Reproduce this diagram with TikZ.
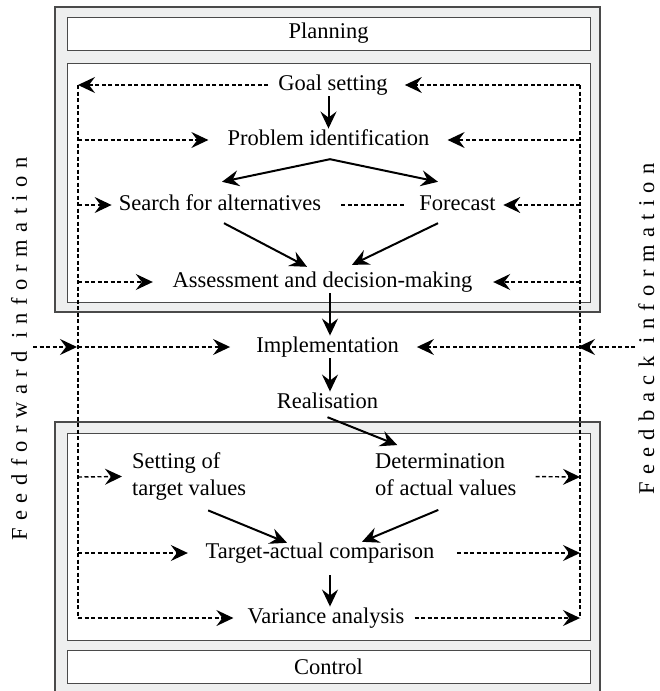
\documentclass[tikz,border=0pt]{standalone}
\usepackage{fontspec}
\setmainfont{Liberation Serif}
\usetikzlibrary{arrows.meta}
\definecolor{boxfill}{HTML}{EEEFEF}
\definecolor{boxline}{HTML}{4A4A4A}
\begin{document}
\begin{tikzpicture}[x=1pt,y=-1pt,
  mainfont/.style={font=\fontsize{22.5}{27}\selectfont},
  txt/.style={mainfont, inner xsep=10pt, inner ysep=1pt, text height=15.5pt, text depth=5pt},
  two/.style={mainfont, inner xsep=10pt, inner ysep=1pt, align=left},
  outerbox/.style={draw=boxline, fill=boxfill, line width=1.2pt},
  innerbox/.style={draw=boxline, fill=white, line width=1pt},
  labelbox/.style={innerbox, mainfont, minimum width=523pt, minimum height=33pt, inner sep=0pt},
  tip/.style={-{Stealth[length=17pt,width=16pt,inset=6pt]}},
  arr/.style={tip, line width=2pt},
  fb/.style={dash pattern=on 4pt off 2.5pt, line width=1.4pt},
  fba/.style={fb, tip},
  side/.style={font=\fontsize{22.5}{27}\selectfont\addfontfeature{LetterSpace=33}, inner sep=0pt, rotate=90, anchor=base}]
\useasboundingbox[fill=white] (0,0) rectangle (659,691);

% planning block
\draw[outerbox] (55,7) rectangle (600,312);
\node[labelbox] (planning) at (328.5,33.5) {Planning};
\draw[innerbox] (67,63) rectangle (590,302);

% control block
\draw[outerbox] (55,422) rectangle (600,720);
\draw[innerbox] (67,433) rectangle (590,640);
\node[labelbox] (control) at (328.5,667) {Control};

% text nodes
\node[txt] (goal) at (333,85) {Goal setting};
\node[txt] (prob) at (328.5,140) {Problem identification};
\node[txt] (search) at (220,205) {Search for alternatives};
\node[txt] (fore) at (457.5,205) {Forecast};
\node[txt] (assess) at (322.5,282) {Assessment and decision-making};
\node[txt] (impl) at (327.5,347) {Implementation};
\node[txt] (real) at (327.5,403) {Realisation};
\node[two, anchor=west] (setting) at (122,476.5) {Setting of\\target values};
\node[two, anchor=west] (determ) at (365,476.5) {Determination\\of actual values\vphantom{g}};
\node[txt] (target) at (320,553) {Target-actual comparison};
\node[txt] (var) at (326,618) {Variance analysis};

% side labels
\node[side] (ffinfo) at (27,349) {Feedforward information};
\node[side] (fbinfo) at (654,329) {Feedback information};

% helper coordinates
\coordinate (cx) at (330,0);
\coordinate (L0) at (78,85);
\coordinate (L1) at (78,140);
\coordinate (L2) at (78,205);
\coordinate (L3) at (78,282);
\coordinate (L4) at (78,347);
\coordinate (L5) at (78,477);
\coordinate (L6) at (78,553);
\coordinate (L7) at (78,618);
\coordinate (R0) at (580,85);
\coordinate (R1) at (580,140);
\coordinate (R2) at (580,205);
\coordinate (R3) at (580,282);
\coordinate (R4) at (580,347);
\coordinate (R5) at (580,477);
\coordinate (R6) at (580,553);
\coordinate (R7) at (580,618);
\coordinate (LO) at (33,347);
\coordinate (RO) at (635,347);

% solid arrows
\draw[arr] (goal.south -| prob) -- (prob.north);
\draw[arr] ([xshift=1.5pt,yshift=-7.75pt]prob.south) -- ([xshift=2pt,yshift=11.75pt]search.north);
\draw[arr] ([xshift=1.5pt,yshift=-7.75pt]prob.south) -- ([xshift=-19.5pt,yshift=11.75pt]fore.north);
\draw[arr] ([xshift=4pt,yshift=-6.75pt]search.south) -- ([xshift=-15.5pt,yshift=3.75pt]assess.north);
\draw[arr] ([xshift=-19.5pt,yshift=-6.75pt]fore.south) -- ([xshift=29.5pt,yshift=5.75pt]assess.north);
\draw[arr] (assess.south -| cx) -- (impl.north -| cx);
\draw[arr] (impl.south -| cx) -- (real.north -| cx);
\draw[arr] ([yshift=-2.75pt]real.south) -- ([xshift=-48.5pt,yshift=6.85pt]determ.north);
\draw[arr] ([xshift=19pt,yshift=-8.85pt]setting.south) -- ([xshift=-33pt,yshift=-1.25pt]target.north);
\draw[arr] ([xshift=-7.5pt,yshift=-8.85pt]determ.south) -- ([xshift=42pt,yshift=-0.25pt]target.north);
\draw[arr, shorten <=10.75pt] (target.south -| cx) -- (var.north -| cx);

% dashed feedforward / feedback lines
\draw[fb] (L0) -- (L7);
\draw[fb] (R0) -- (R7);
\draw[fba] (goal.west) -- (L0);
\draw[fba, shorten >=7pt] (R0) -- (goal.east);
\draw[fba, shorten >=9pt] (L1) -- (prob.west);
\draw[fba, shorten >=8pt] (R1) -- (prob.east);
\draw[fba, shorten >=-3pt] (L2) -- (search.west);
\draw[fba, shorten >=-2.5pt] (R2) -- (fore.east);
\draw[fb, shorten <=10pt, shorten >=5pt] (search.east) -- (fore.west);
\draw[fba, shorten >=9.5pt] (L3) -- (assess.west);
\draw[fba, shorten >=10.5pt] (R3) -- (assess.east);
\draw[fba, shorten >=1pt] (LO) -- (L4);
\draw[fba, shorten >=16pt] (L4) -- (impl.west);
\draw[fba, shorten >=-2pt] (RO) -- (R4);
\draw[fba, shorten >=8pt] (R4) -- (impl.east);
\draw[fba] (L5) -- (setting.west);
\draw[fba, shorten <=9pt] (determ.east) -- (R5);
\draw[fba, shorten >=7.7pt] (L6) -- (target.west);
\draw[fba, shorten <=12.7pt] (target.east) -- (R6);
\draw[fba, shorten >=4pt] (L7) -- (var.west);
\draw[fba] (var.east) -- (R7);
\end{tikzpicture}
\end{document}
